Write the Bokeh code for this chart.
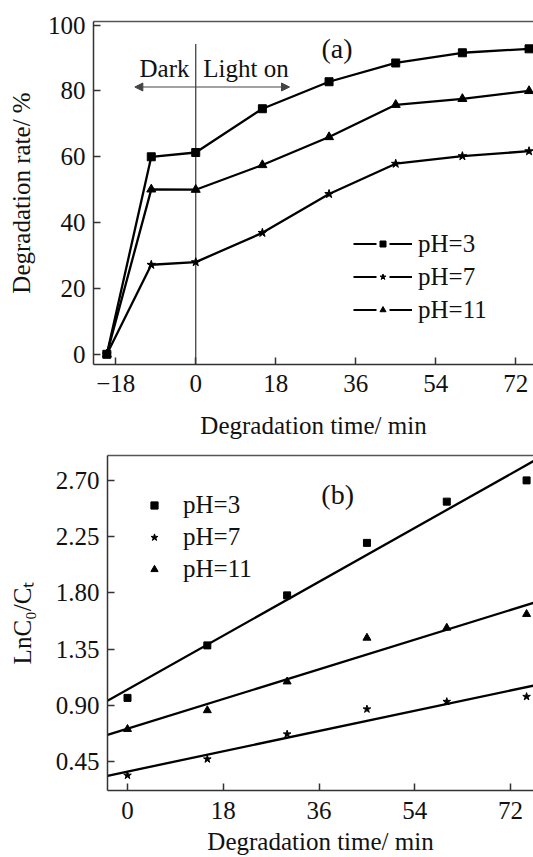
import numpy as np
from bokeh.plotting import figure
from bokeh.models import (Range1d, FixedTicker, LinearAxis, Legend, LegendItem,
                          Label, Arrow, NormalHead, ColumnDataSource, PrintfTickFormatter)
from bokeh.embed import file_html
from bokeh.resources import INLINE

FONT = "Liberation Serif"
INK = "#111111"
AXC = "#333333"

# ---------------- data (a) ----------------
time_a = [-20, -10, 0, 15, 30, 45, 60, 75]
rate_ph3 = [0.0, 60.0, 61.3, 74.6, 82.8, 88.5, 91.6, 92.8]
rate_ph7 = [0.0, 27.2, 28.0, 36.9, 48.7, 57.9, 60.2, 61.7]
rate_ph11 = [0.0, 50.1, 50.0, 57.5, 66.0, 75.8, 77.6, 80.0]
ticks_a_x = [-18, 0, 18, 36, 54, 72]
ticks_a_y = [0, 20, 40, 60, 80, 100]

# ---------------- data (b) ----------------
time_b = [0, 15, 30, 45, 60, 75]
ln_ph3 = [0.96, 1.38, 1.78, 2.20, 2.53, 2.70]
ln_ph7 = [0.34, 0.47, 0.67, 0.87, 0.93, 0.97]
ln_ph11 = [0.71, 0.86, 1.09, 1.44, 1.52, 1.63]
ticks_b_x = [0, 18, 36, 54, 72]
ticks_b_y = [0.45, 0.90, 1.35, 1.80, 2.25, 2.70]

labels = ["pH=3", "pH=7", "pH=11"]
markers = ["square", "star", "triangle"]
msizes = [8, 9, 9]


def style_axis(ax):
    ax.axis_line_color = AXC
    ax.axis_line_width = 1.5
    ax.major_tick_line_color = AXC
    ax.major_tick_line_width = 1.5
    ax.major_tick_in = 7
    ax.major_tick_out = 0
    ax.minor_tick_line_color = None
    ax.major_label_text_font = FONT
    ax.major_label_text_font_size = "25px"
    ax.major_label_text_color = INK
    ax.axis_label_text_font = FONT
    ax.axis_label_text_font_size = "25px"
    ax.axis_label_text_font_style = "normal"
    ax.axis_label_text_color = INK


def add_top_border(p):
    top = LinearAxis(ticker=FixedTicker(ticks=[]), major_label_text_font_size="0px",
                     axis_line_color="#555555", axis_line_width=1.5,
                     major_tick_line_color=None, minor_tick_line_color=None,
                     major_label_standoff=0, major_tick_in=0, major_tick_out=0)
    p.add_layout(top, "above")


def legend_proxy(p, marker):
    """Legend-only renderers: dash - gap - marker - gap - dash."""
    src = ColumnDataSource(data=dict(x=[float("nan")], y=[float("nan")]))
    r_l = p.line("x", "y", source=src, line_color="black", line_width=2.2, line_dash="23 13")
    r_m = p.scatter("x", "y", source=src, marker=marker, size=6, fill_color="black",
                    line_color="black")
    return [r_l, r_m]


# ================= panel (a) =================
pa = figure(width=533, height=441, output_backend="svg", toolbar_location=None,
            x_range=Range1d(-23.0, 76.0), y_range=Range1d(-3.1, 101.1),
            min_border_left=93, min_border_right=0, min_border_top=21, min_border_bottom=75)
pa.outline_line_color = None
pa.xgrid.visible = False
pa.ygrid.visible = False

pa.xaxis.ticker = FixedTicker(ticks=ticks_a_x)
pa.yaxis.ticker = FixedTicker(ticks=ticks_a_y)
pa.xaxis.axis_label = "Degradation time/ min"
pa.yaxis.axis_label = "Degradation rate/ %"
for ax in pa.xaxis + pa.yaxis:
    style_axis(ax)
pa.xaxis.major_label_standoff = 10
pa.xaxis.axis_label_standoff = 17
pa.yaxis.major_label_standoff = 8
pa.yaxis.axis_label_standoff = 10
add_top_border(pa)

# divider line and annotations
DIV_X, DIV_TOP = 0, 94.3
pa.segment(x0=[DIV_X], y0=[-10], x1=[DIV_X], y1=[DIV_TOP], line_color="#444444", line_width=1.3)
ARROW_Y, ARROW_X0, ARROW_X1 = 81.2, -13.7, 21.1
pa.add_layout(Arrow(x_start=ARROW_X0, y_start=ARROW_Y, x_end=ARROW_X1, y_end=ARROW_Y,
                    line_color="#444444", line_width=1.2,
                    start=NormalHead(size=8, fill_color="#444444", line_color="#444444"),
                    end=NormalHead(size=8, fill_color="#444444", line_color="#444444")))
TEXT_Y = 86.8
pa.add_layout(Label(x=-1.4, y=TEXT_Y, text="Dark", text_align="right", text_baseline="middle",
                    text_font=FONT, text_font_size="25px", text_color=INK))
pa.add_layout(Label(x=1.7, y=TEXT_Y, text="Light on", text_align="left", text_baseline="middle",
                    text_font=FONT, text_font_size="25px", text_color=INK))
pa.add_layout(Label(x=31.8, y=92.9, text="(a)", text_align="center", text_baseline="middle",
                    text_font=FONT, text_font_size="28px", text_color=INK))

items_a = []
for ys, lab, mk, ms in zip([rate_ph3, rate_ph7, rate_ph11], labels, markers, msizes):
    pa.line(time_a, ys, line_color="black", line_width=2.3)
    pa.scatter(time_a, ys, marker=mk, size=ms, fill_color="black", line_color="black")
    items_a.append(LegendItem(label=lab, renderers=legend_proxy(pa, mk)))

leg_a = Legend(items=items_a, location=(260, 38), glyph_width=59, glyph_height=15,
               label_height=33, label_standoff=6, spacing=0, padding=0, margin=0,
               border_line_color=None, background_fill_alpha=0,
               label_text_font=FONT, label_text_font_size="25px", label_text_color=INK)
pa.add_layout(leg_a)

# ================= panel (b) =================
pb = figure(width=533, height=416, output_backend="svg", toolbar_location=None,
            x_range=Range1d(-3.76, 76.3), y_range=Range1d(0.219, 2.899),
            min_border_left=107, min_border_right=0, min_border_top=14, min_border_bottom=65)
pb.outline_line_color = None
pb.xgrid.visible = False
pb.ygrid.visible = False

pb.xaxis.ticker = FixedTicker(ticks=ticks_b_x)
pb.yaxis.ticker = FixedTicker(ticks=ticks_b_y)
pb.yaxis.formatter = PrintfTickFormatter(format="%.2f")
pb.xaxis.axis_label = "Degradation time/ min"
pb.yaxis.axis_label = "LnC\u2080/C\u209c"
for ax in pb.xaxis + pb.yaxis:
    style_axis(ax)
pb.xaxis.major_label_standoff = 11
pb.xaxis.axis_label_standoff = 6
pb.yaxis.major_label_standoff = 8
pb.yaxis.axis_label_standoff = 17
add_top_border(pb)

pb.add_layout(Label(x=39.5, y=2.585, text="(b)", text_align="center", text_baseline="middle",
                    text_font=FONT, text_font_size="28px", text_color=INK))

xfit = np.array([pb.x_range.start, pb.x_range.end])
items_b = []
for ys, lab, mk, ms in zip([ln_ph3, ln_ph7, ln_ph11], labels, markers, msizes):
    k, b = np.polyfit(time_b, ys, 1)
    pb.line(xfit, k * xfit + b, line_color="black", line_width=2.3)
    r = pb.scatter(time_b, ys, marker=mk, size=ms - 1, fill_color="black", line_color="black")
    items_b.append(LegendItem(label=lab, renderers=[r]))

leg_b = Legend(items=items_b, location=(37, 205), glyph_width=20, glyph_height=18,
               label_height=32, label_standoff=19, spacing=0, padding=0, margin=0,
               border_line_color=None, background_fill_alpha=0,
               label_text_font=FONT, label_text_font_size="25px", label_text_color=INK)
pb.add_layout(leg_b)

open("out.html", "w").write(file_html([pa, pb], INLINE))
